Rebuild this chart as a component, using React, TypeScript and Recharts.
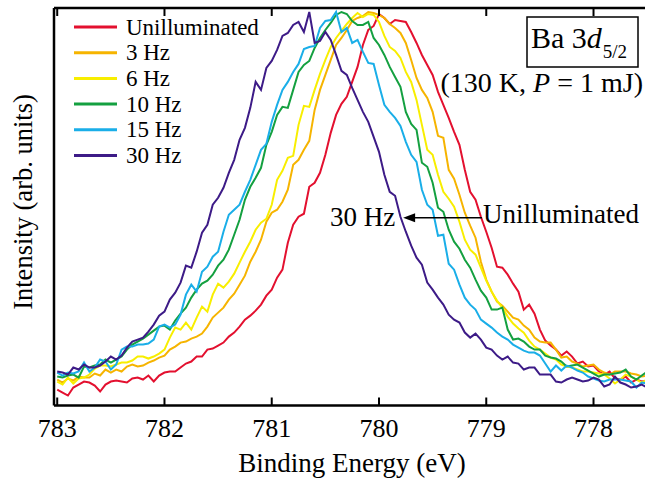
import React from 'react';
import { LineChart, Line, XAxis, YAxis, Legend, ReferenceLine } from 'recharts';

const FONT = "'Liberation Serif', 'Times New Roman', serif";

const energies = [
  783, 782.95, 782.9, 782.85, 782.8, 782.75, 782.7, 782.65, 782.6, 782.55,
  782.5, 782.45, 782.4, 782.35, 782.3, 782.25, 782.2, 782.15, 782.1, 782.05,
  782, 781.95, 781.9, 781.85, 781.8, 781.75, 781.7, 781.65, 781.6, 781.55,
  781.5, 781.45, 781.4, 781.35, 781.3, 781.25, 781.2, 781.15, 781.1, 781.05,
  781, 780.95, 780.9, 780.85, 780.8, 780.75, 780.7, 780.65, 780.6, 780.55,
  780.5, 780.45, 780.4, 780.35, 780.3, 780.25, 780.2, 780.15, 780.1, 780.05,
  780, 779.95, 779.9, 779.85, 779.8, 779.75, 779.7, 779.65, 779.6, 779.55,
  779.5, 779.45, 779.4, 779.35, 779.3, 779.25, 779.2, 779.15, 779.1, 779.05,
  779, 778.95, 778.9, 778.85, 778.8, 778.75, 778.7, 778.65, 778.6, 778.55,
  778.5, 778.45, 778.4, 778.35, 778.3, 778.25, 778.2, 778.15, 778.1, 778.05,
  778, 777.95, 777.9, 777.85, 777.8, 777.75, 777.7, 777.65, 777.6, 777.55,
  777.5,
];

const seriesNames = ['Unilluminated', '3 Hz', '6 Hz', '10 Hz', '15 Hz', '30 Hz'];
const seriesColors = ['#e3102f', '#f6b400', '#f8ee00', '#14a040', '#1aaee8', '#3d1b87'];

const unilluminated = [
  4, 3.25, 2.5, 4.5, 5.25, 6, 5.75, 5, 3.5, 5.25,
  6, 6.25, 6, 5.75, 6.75, 7, 6.5, 7.5, 6, 7.5,
  8.25, 8.5, 8.5, 9.5, 10.5, 11, 12.25, 12.25, 14, 14.25,
  15, 15.75, 17.25, 18.25, 19.75, 21.5, 22.5, 23.75, 25.25, 27.5,
  29, 32, 34, 40.75, 45.25, 47.25, 48, 54.75, 55.75, 58.25,
  62.75, 68.25, 72.75, 75.5, 77.25, 81, 84.75, 90.25, 94, 95,
  98, 97, 95.5, 96.5, 96.25, 96, 93.5, 90.75, 87.75, 85.25,
  82.75, 78.5, 75.25, 72, 68.5, 65.25, 59, 53.5, 51.5, 47.25,
  43.5, 39.5, 34.75, 34.5, 32.75, 30.5, 28.5, 24, 25.25, 23,
  19, 16.25, 15, 14, 12.5, 13.5, 12.25, 10.5, 11, 9.75,
  10, 8.5, 7.75, 8.5, 6.75, 6.5, 7.25, 5.75, 6.5, 6,
  6.25,
];

const hz3 = [
  6.5, 5.75, 6.75, 6.25, 7.25, 7, 7, 8, 7.5, 9,
  8.25, 9, 8.5, 9.75, 10.25, 9.75, 10, 10.75, 11.25, 12,
  12.5, 14, 14.75, 15.75, 16, 16.75, 17.25, 18, 19.75, 22,
  23.25, 24.5, 26.5, 28, 30.25, 32.5, 36, 38.5, 41.5, 46,
  48.25, 49, 51, 54, 60.25, 61.5, 64, 66.25, 74, 79,
  82.75, 86.5, 90.25, 92, 94, 96.25, 97, 97.5, 98.5, 98.25,
  97.75, 97, 95.5, 94.5, 93.25, 90.75, 86.5, 82, 79, 77,
  73.5, 67.5, 67, 59, 56.75, 52.75, 48.25, 45, 42, 36,
  31.5, 28.5, 26, 25, 23.5, 22, 21.5, 20, 19, 17,
  16, 15.75, 15.75, 14, 12, 12.25, 11, 10.5, 9.75, 10,
  10.25, 9, 8.25, 7.75, 8.5, 8.5, 8.5, 8, 7.75, 7.25,
  7.5,
];

const hz6 = [
  6, 5.25, 7, 5.5, 6.75, 7, 7.75, 9.25, 10, 10,
  9.75, 10.25, 10.75, 10.75, 11.25, 12.25, 12.25, 11.75, 12.25, 13,
  14, 17, 19.5, 19, 20.75, 19, 22, 24.75, 23.5, 27.75,
  30.5, 29.5, 31, 33, 35.75, 38.5, 41, 44, 45.75, 46.75,
  50.25, 56.5, 58.75, 62, 62.5, 70.25, 75, 74.75, 79, 83,
  86.5, 89.75, 92, 93.75, 95.5, 97, 98.25, 97.25, 98, 97.75,
  96, 92.5, 89.75, 88.75, 87, 83.5, 81, 76.5, 70.25, 64,
  62.75, 57.75, 53.5, 51.75, 49.75, 46, 41.5, 39, 37.75, 34.5,
  31.25, 28.5, 26.25, 24.5, 22.25, 20.5, 19.25, 18.25, 16.25, 14.75,
  14, 13, 12, 11.5, 10.25, 9.75, 9.5, 9, 8.5, 8.5,
  8.25, 8, 7.75, 6.75, 5.5, 6.5, 7.75, 7.25, 6.5, 5.75,
  6.5,
];

const hz10 = [
  7.25, 7, 7.5, 7.75, 7, 9.75, 9.5, 10, 10.25, 11.5,
  10.75, 11.5, 12.25, 14, 15.25, 16, 16.75, 17.75, 18.75, 19.75,
  20, 19, 21.25, 23, 24.5, 27, 29, 30.5, 31.25, 32.75,
  35, 36.5, 39, 42.75, 46.5, 51.5, 54.75, 57, 59.5, 65.25,
  68.5, 72.75, 74.75, 74.5, 79, 83.5, 85.25, 86.25, 89.5, 92,
  94, 95.75, 97.75, 98.5, 98, 96.25, 95.25, 95.25, 96, 92,
  90.25, 87.75, 84.75, 82.25, 79.75, 73.5, 70.5, 69, 60.75, 59.75,
  55.75, 49.5, 48.5, 44, 41, 39.25, 36.5, 34.5, 31.5, 28.75,
  27, 24, 24, 24.5, 19, 16.5, 16.75, 16, 14.75, 14,
  14, 12.5, 12, 11.75, 11, 9.75, 10, 10.25, 9.5, 8.75,
  8, 7.25, 7.75, 7.75, 8, 8.25, 9, 7.25, 6.5, 7.5,
  8.5,
];

const hz15 = [
  8.25, 7.5, 8.25, 8, 8.5, 10.75, 8.5, 9.5, 11.5, 11,
  9, 10.25, 14, 14.75, 14.75, 15.25, 15.25, 15.5, 16.5, 19.75,
  20.25, 19.5, 20.25, 22.75, 27.75, 30.25, 28.5, 33.5, 34.75, 37.25,
  38.5, 43.5, 47.75, 49, 50.25, 53.5, 56.5, 60.25, 64, 65.5,
  71, 75.25, 79, 81, 83.5, 85.5, 89.25, 89.75, 90, 94.5,
  96.25, 96.5, 98.5, 93.5, 94.5, 90.75, 91.5, 88.5, 85.75, 85.5,
  80.25, 75.25, 73.5, 72, 70, 66, 62.75, 61, 54, 50.25,
  49, 42.5, 42.75, 35.5, 34, 30.25, 27, 25.25, 24, 21.5,
  20.5, 19.5, 18.25, 17.25, 16.5, 15.25, 14.5, 13.75, 13.25, 13.25,
  12.5, 10.5, 8.5, 10, 8.75, 10, 9.5, 8.75, 8.25, 7.25,
  6.75, 6.25, 6, 6.5, 6.5, 6.5, 6.25, 6, 4.5, 5.75,
  5.5,
];

const hz30 = [
  8.5, 8.25, 7.75, 9.5, 9, 10.25, 9.5, 9.5, 10, 11,
  12.25, 11.5, 12.5, 14.5, 16, 16.5, 17, 18.5, 20.25, 22.5,
  23.5, 26.5, 28.25, 30.75, 35, 34.5, 38.5, 43.25, 45.25, 50.25,
  52, 54.5, 58.25, 61.5, 66.5, 69.5, 74.5, 81, 79, 84.5,
  86.25, 89, 92.5, 93.25, 95.25, 96, 93.5, 98.5, 90.75, 91.25,
  93.5, 91.5, 87.75, 83.75, 82.75, 79.5, 76.5, 73.5, 71, 67.25,
  63.5, 57.75, 53.5, 52.5, 47.25, 43.5, 40, 37, 35.25, 30.75,
  29, 27, 25.25, 22.75, 21.5, 20.75, 18.25, 17, 18, 16.5,
  14.5, 14, 12.5, 11.5, 12.25, 10.75, 10.5, 9, 9.5, 9.5,
  7.75, 7.75, 7.75, 6, 5.75, 6.5, 7, 6.5, 6, 6.25,
  7, 6.5, 4.75, 5.25, 7.25, 5.75, 5.25, 4.5, 4.75, 5.25,
  4.5,
];

const xTicks = [783, 782, 781, 780, 779, 778];
const xDomain = [777.52, 783.03];
const yDomain = [0, 99.5];

// Annotation arrow: from the Unilluminated curve to the 30 Hz curve at half height
const arrowTail = { x: 779.04, y: 47 };
const arrowTip = { x: 779.775, y: 47 };

const seriesValues = [unilluminated, hz3, hz6, hz10, hz15, hz30];
const data = energies.map((e, i) => {
  const row: Record<string, number> = { energy: e };
  seriesValues.forEach((vals, k) => {
    row['s' + k] = vals[i];
  });
  return row;
});

const renderLegend = () => {
  return (
    <svg width={200} height={160} style={{ display: 'block', overflow: 'visible' }}>
      {seriesNames.map((name, i) => {
        const y = 17 + i * 25.7;
        return (
          <g key={name}>
            <line x1={14} x2={57} y1={y} y2={y} stroke={seriesColors[i]} strokeWidth={3} />
            <text x={66} y={y + 7.5} fontFamily={FONT} fontSize={23} fill="#000">
              {name}
            </text>
          </g>
        );
      })}
    </svg>
  );
};

const ArrowShape = (props: any) => {
  const { x1, y1, x2, y2 } = props;
  return (
    <g>
      <line x1={x1} y1={y1} x2={x2 + 8} y2={y2} stroke="#000" strokeWidth={1.6} />
      <polygon points={`${x2},${y2} ${x2 + 12},${y2 - 4.5} ${x2 + 12},${y2 + 4.5}`} fill="#000" />
      <text
        x={x2 - 8}
        y={y2 + 8}
        textAnchor="end"
        fontFamily={FONT}
        fontSize={27}
        fill="#000"
      >
        30 Hz
      </text>
      <text
        x={x1 + 1}
        y={y1 + 5}
        fontFamily={FONT}
        fontSize={27}
        fill="#000"
        stroke="#fff"
        strokeWidth={3}
        paintOrder="stroke"
      >
        Unilluminated
      </text>
    </g>
  );
};

const noTick = () => <g />;

export default function App() {
  return (
    <div style={{ position: 'absolute', left: 0, top: 0, width: 646, height: 483, background: '#fff' }}>
      <LineChart
        width={646}
        height={483}
        data={data}
        margin={{ top: 7, right: 1, bottom: 47.5, left: 53 }}
      >
        <XAxis
          dataKey="energy"
          type="number"
          domain={xDomain}
          allowDataOverflow
          reversed
          ticks={xTicks}
          interval={0}
          height={30}
          axisLine={{ stroke: '#000', strokeWidth: 2.5 }}
          tickLine={{ stroke: '#000', strokeWidth: 2 }}
          tickSize={-8}
          tickMargin={21}
          tick={{ fontSize: 26, fill: '#000', fontFamily: FONT }}
        />
        <XAxis
          xAxisId="top"
          orientation="top"
          dataKey="energy"
          type="number"
          domain={xDomain}
          allowDataOverflow
          reversed
          ticks={xTicks}
          interval={0}
          height={1}
          axisLine={{ stroke: '#000', strokeWidth: 2.5 }}
          tickLine={{ stroke: '#000', strokeWidth: 2 }}
          tickSize={-8}
          tick={noTick}
        />
        <YAxis
          type="number"
          domain={yDomain}
          allowDataOverflow
          width={1}
          axisLine={{ stroke: '#000', strokeWidth: 2.5 }}
          tickLine={false}
          tick={false}
        />
        {seriesNames.map((name, k) => (
          <Line
            key={name}
            type="linear"
            dataKey={'s' + k}
            name={name}
            stroke={seriesColors[k]}
            strokeWidth={2}
            dot={false}
            activeDot={false}
            isAnimationActive={false}
          />
        ))}
        <ReferenceLine segment={[arrowTail, arrowTip]} shape={ArrowShape} />
        <Legend
          content={renderLegend}
          layout="vertical"
          align="center"
          verticalAlign="middle"
          wrapperStyle={{ left: 60, top: 10, width: 200, height: 160 }}
        />
      </LineChart>
      <svg
        width={646}
        height={483}
        style={{ position: 'absolute', left: 0, top: 0, pointerEvents: 'none' }}
      >
        <text x={352} y={472} textAnchor="middle" fontFamily={FONT} fontSize={27} fill="#000">
          Binding Energy (eV)
        </text>
        <text
          x={32}
          y={202}
          transform="rotate(-90, 32, 202)"
          textAnchor="middle"
          fontFamily={FONT}
          fontSize={26.5}
          fill="#000"
        >
          Intensity (arb. units)
        </text>
        <rect x={527} y={17} width={111} height={50} fill="#fff" stroke="#000" strokeWidth={1.5} />
        <text x={531} y={48} fontFamily={FONT} fontSize={30} fill="#000">
          Ba 3<tspan fontStyle="italic">d</tspan>
          <tspan fontSize={19} dx={1} dy={10}>5/2</tspan>
        </text>
        <text x={643} y={92} textAnchor="end" fontFamily={FONT} fontSize={28} fill="#000">
          (130 K, <tspan fontStyle="italic">P</tspan> = 1 mJ)
        </text>
      </svg>
    </div>
  );
}
